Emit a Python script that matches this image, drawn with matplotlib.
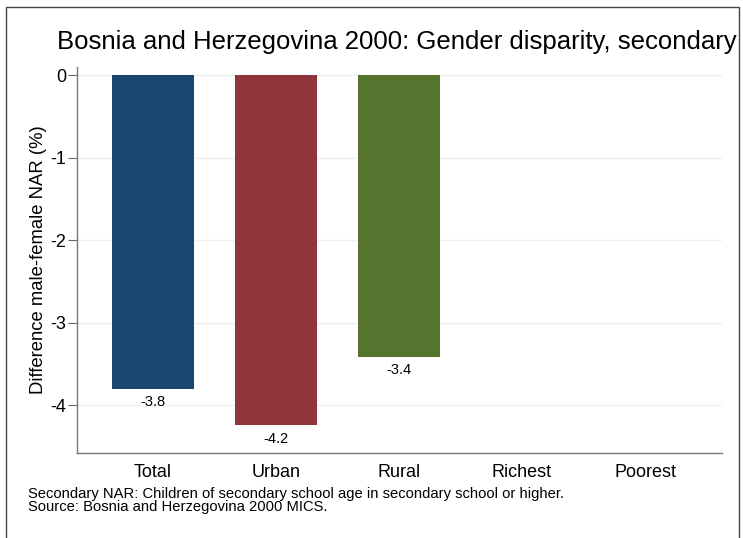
import matplotlib.pyplot as plt
from matplotlib.lines import Line2D

plt.rcParams['font.family'] = ['Liberation Sans', 'DejaVu Sans']

title = "Bosnia and Herzegovina 2000: Gender disparity, secondary"
ylab = "Difference male-female NAR (%)"
note = ("Secondary NAR: Children of secondary school age in secondary school or higher.\n"
        "Source: Bosnia and Herzegovina 2000 MICS.")

categories = ["Total", "Urban", "Rural", "Richest", "Poorest"]
values = [-3.80, -4.24, -3.41, None, None]
labels = ["-3.8", "-4.2", "-3.4", "", ""]
colors = ["#1a476f", "#90353b", "#55752f", "#e37e00", "#6e8e84"]

fig = plt.figure(figsize=(7.43, 5.38), dpi=100)
ax = fig.add_axes([77/743, 1-453/538, (722-77)/743, (453-67)/538])

pos = list(range(len(categories)))
for i, v in enumerate(values):
    if v is None:
        continue
    ax.bar(i, v, width=0.667, color=colors[i], zorder=3)
    ax.text(i, v - 0.08, labels[i], ha='center', va='top', fontsize=10.5, zorder=4)

ax.set_xlim(-0.618, 4.626)
ax.set_ylim(-4.58, 0.10)
ax.set_yticks([0, -1, -2, -3, -4])
ax.set_yticklabels(["0", "-1", "-2", "-3", "-4"])
ax.set_xticks(pos)
ax.set_xticklabels(categories)
ax.tick_params(axis='x', length=0, labelsize=13, pad=8)
ax.tick_params(axis='y', length=6.5, width=0.8, color='#666666', labelsize=13, pad=1.5)
ax.grid(axis='y', color='#eaf2f3', linewidth=1.0, zorder=0)
for s in ['top', 'right']:
    ax.spines[s].set_visible(False)
for s in ['left', 'bottom']:
    ax.spines[s].set_color('#777777')
    ax.spines[s].set_linewidth(1.0)
ax.set_ylabel(ylab, fontsize=13.3, labelpad=2)

fig.text(57/743, 1-42/538, title, fontsize=18.5, ha='left', va='center')
fig.text(28/743, 1-487/538, note, fontsize=10.6, ha='left', va='top', linespacing=0.93)

# outer frame
fx = [6/743, 6/743, 739/743, 739/743]
fy = [-0.01, 1-7/538, 1-7/538, -0.01]
fig.add_artist(Line2D(fx, fy, color='#444444', linewidth=1.0, transform=fig.transFigure))

fig.savefig("out.png", dpi=100, facecolor='white')
